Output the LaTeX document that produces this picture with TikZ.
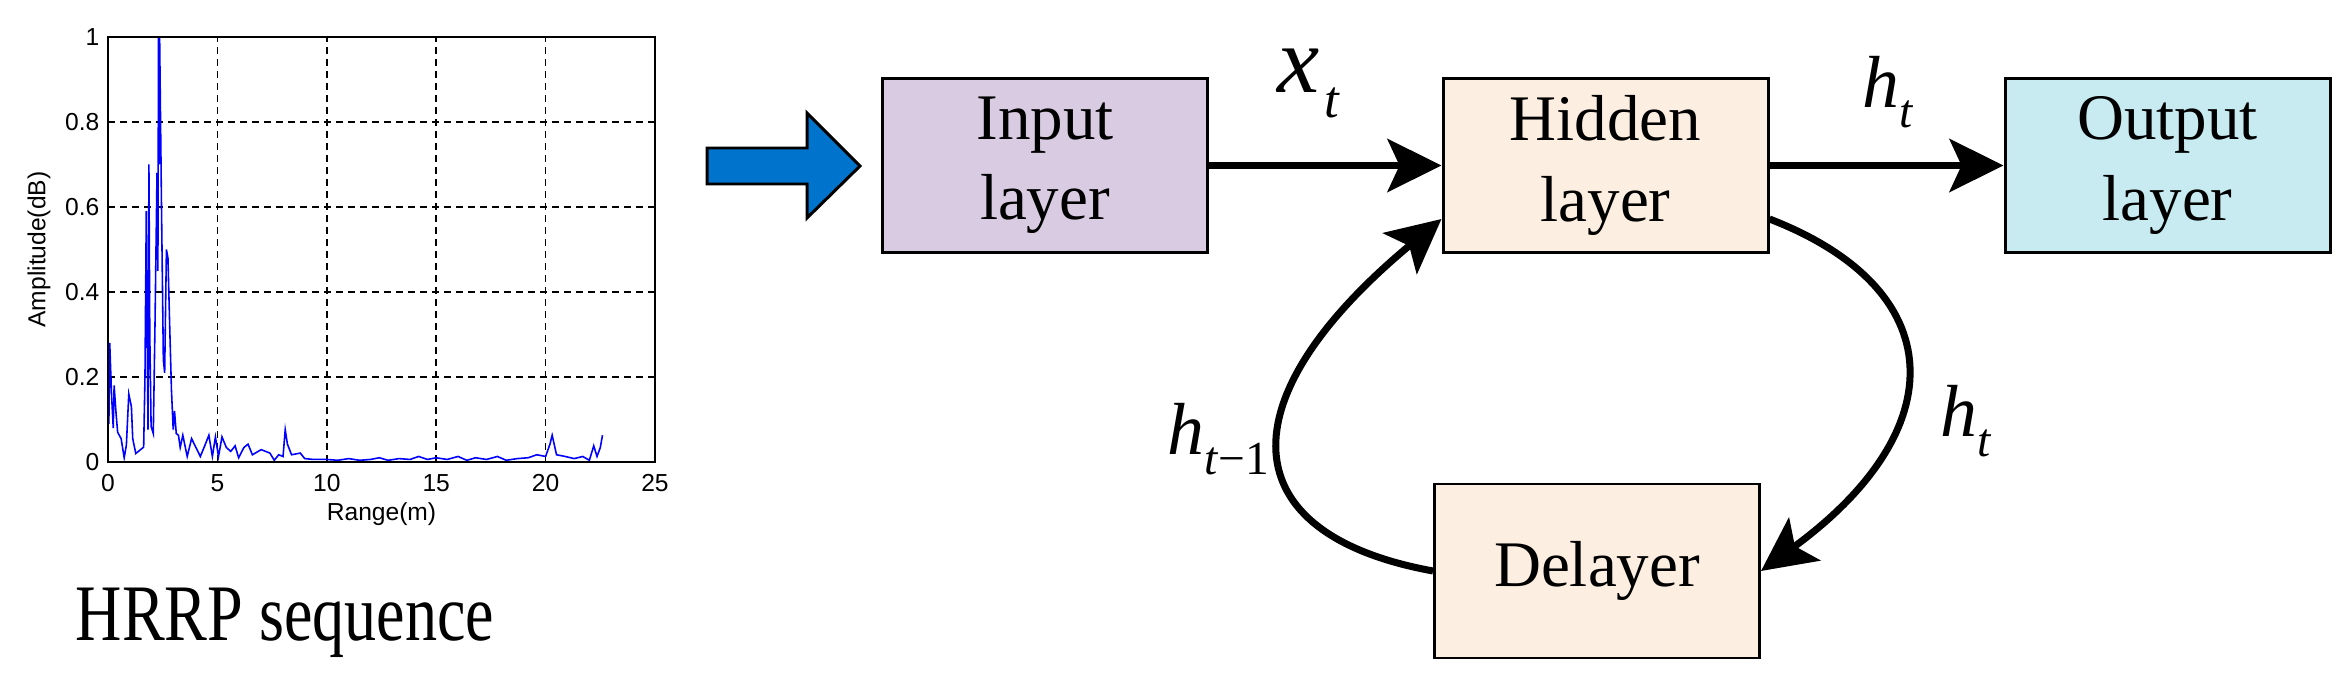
\documentclass[tikz,border=0pt]{standalone}
\usepackage{fontspec}
\setmainfont{Liberation Serif}
\newfontfamily\plotfont{Liberation Sans}
\usetikzlibrary{arrows.meta,positioning}

\definecolor{inpfill}{RGB}{216,203,226}
\definecolor{hidfill}{RGB}{253,238,226}
\definecolor{outfill}{RGB}{199,235,240}
\definecolor{feedblue}{RGB}{0,116,204}

% italic symbol with a lowered index
\newcommand{\symsub}[3]{\textit{#1}\raisebox{-#3}{\fontsize{13.5}{14}\selectfont #2}}

\begin{document}
\begin{tikzpicture}[
  layer/.style={rectangle, draw, line width=0.85pt, minimum width=3.25cm, minimum height=1.74cm, inner sep=0pt, align=center, font=\fontsize{18.5}{22.8}\selectfont},
  flow/.style={line width=2pt, -{Stealth[length=0.54cm,width=0.53cm,inset=0.12cm]}},
  sym/.style={inner sep=0pt, anchor=base west, font=\fontsize{21}{22}\selectfont},
  gridln/.style={line width=0.45pt, dash pattern=on 0.07cm off 0.05cm},
  ticklbl/.style={inner sep=0pt, font=\plotfont\fontsize{7}{8}\selectfont}
]
\useasboundingbox (0,0) rectangle (23.5,6.84);

% HRRP plot
\begin{scope}[shift={(1.08,2.22)}, x=0.2188cm, y=4.25cm]
\foreach \x in {5,10,15,20} \draw[gridln] (\x,0) -- (\x,1);
\foreach \y in {0.2,0.4,0.6,0.8} \draw[gridln] (0,\y) -- (25,\y);
\draw[blue, line width=0.45pt] plot coordinates {(0,0.286) (0.04,0.09) (0.08,0.28) (0.16,0.16) (0.24,0.08) (0.28,0.18) (0.36,0.12) (0.44,0.07) (0.6,0.055) (0.74,0.01) (0.84,0.04) (0.95,0.16) (1.07,0.13) (1.13,0.055) (1.27,0.02) (1.63,0.035) (1.69,0.2) (1.75,0.59) (1.79,0.3) (1.83,0.076) (1.87,0.70) (1.91,0.3) (1.97,0.084) (2.07,0.067) (2.15,0.33) (2.24,0.68) (2.28,0.45) (2.31,1.0) (2.34,0.7) (2.36,1.0) (2.45,0.58) (2.53,0.24) (2.59,0.21) (2.67,0.50) (2.74,0.48) (2.82,0.32) (2.90,0.17) (2.98,0.076) (3.04,0.12) (3.12,0.067) (3.22,0.063) (3.30,0.034) (3.42,0.063) (3.62,0.013) (3.82,0.055) (4.02,0.034) (4.22,0.013) (4.42,0.038) (4.61,0.063) (4.77,0.013) (4.91,0.059) (5.05,0.013) (5.21,0.059) (5.41,0.034) (5.61,0.025) (5.81,0.038) (5.97,0.01) (6.21,0.034) (6.40,0.042) (6.60,0.017) (7.0,0.029) (7.4,0.021) (7.6,0.004) (7.8,0.017) (8.0,0.013) (8.1,0.076) (8.2,0.042) (8.39,0.017) (8.79,0.021) (8.99,0.008) (9.4,0.006) (10,0.006) (10.5,0.004) (11,0.008) (11.5,0.004) (12,0.006) (12.4,0.01) (12.8,0.004) (13.3,0.008) (13.8,0.006) (14.2,0.013) (14.6,0.006) (15.0,0.01) (15.5,0.006) (16.0,0.013) (16.4,0.004) (16.8,0.01) (17.3,0.006) (17.8,0.013) (18.2,0.004) (18.7,0.008) (19.2,0.01) (19.6,0.017) (20.0,0.013) (20.2,0.042) (20.3,0.063) (20.5,0.017) (20.9,0.013) (21.3,0.008) (21.7,0.013) (22.0,0.004) (22.2,0.038) (22.35,0.013) (22.5,0.034) (22.6,0.063)};
\draw[line width=0.6pt] (0,0) rectangle (25,1);
\foreach \x in {0,5,...,25} \node[ticklbl, anchor=north, yshift=-0.12cm] (xt\x) at (\x,0) {\x};
\foreach \y/\t in {0/0,0.2/0.2,0.4/0.4,0.6/0.6,0.8/0.8,1/1} \node[ticklbl, anchor=east, xshift=-0.08cm] at (0,\y) {\t};
\node[ticklbl, yshift=-0.52cm] (xname) at (12.5,0) {Range(m)};
\node[ticklbl, rotate=90] (yname) at ([xshift=-0.69cm]0,0.5) {Amplitude(dB)};
\end{scope}
\node[inner sep=0pt, anchor=base, font=\fontsize{22.8}{24}\selectfont] (caption) at (2.85,0.44) {\scalebox{0.8}[1]{HRRP sequence}};

% feed arrow
\draw[fill=feedblue, line width=0.85pt] (7.07,5.00) -- (8.07,5.00) -- (8.07,4.66) -- (8.60,5.18) -- (8.07,5.71) -- (8.07,5.36) -- (7.07,5.36) -- cycle;

% network
\node[layer, fill=inpfill] (inp) at (10.45,5.185) {Input\\layer};
\node[layer, fill=hidfill] (hid) at (16.055,5.185) {Hidden\\layer};
\node[layer, fill=outfill] (outp) at (21.675,5.185) {Output\\layer};
\node[layer, fill=hidfill] (dly) at (15.97,1.13) {Delayer};

\draw[flow] (inp) -- (hid);
\draw[flow] (hid) -- (outp);
\draw[flow] ([yshift=-0.535cm]hid.east) .. controls +(1.81,-0.70) and +(1.94,1.42) .. (dly.east);
\draw[flow] (dly.west) .. controls +(-2.03,0.37) and +(-2.17,-1.80) .. ([yshift=-0.535cm]hid.west);

\node[sym, font=\fontsize{27}{28}\selectfont] (xlbl) at (12.77,5.91) {\textit{x}\kern0.05cm\raisebox{-0.25cm}{\fontsize{15}{16}\selectfont\textit{t}}};
\node[sym] (htop) at (18.62,5.76) {\symsub{h}{\textit{t}}{0.2cm}};
\node[sym] (hright) at (19.40,2.47) {\symsub{h}{\textit{t}}{0.2cm}};
\node[sym] (hprev) at (11.67,2.29) {\symsub{h}{\textit{t}−1}{0.2cm}};
\end{tikzpicture}
\end{document}
